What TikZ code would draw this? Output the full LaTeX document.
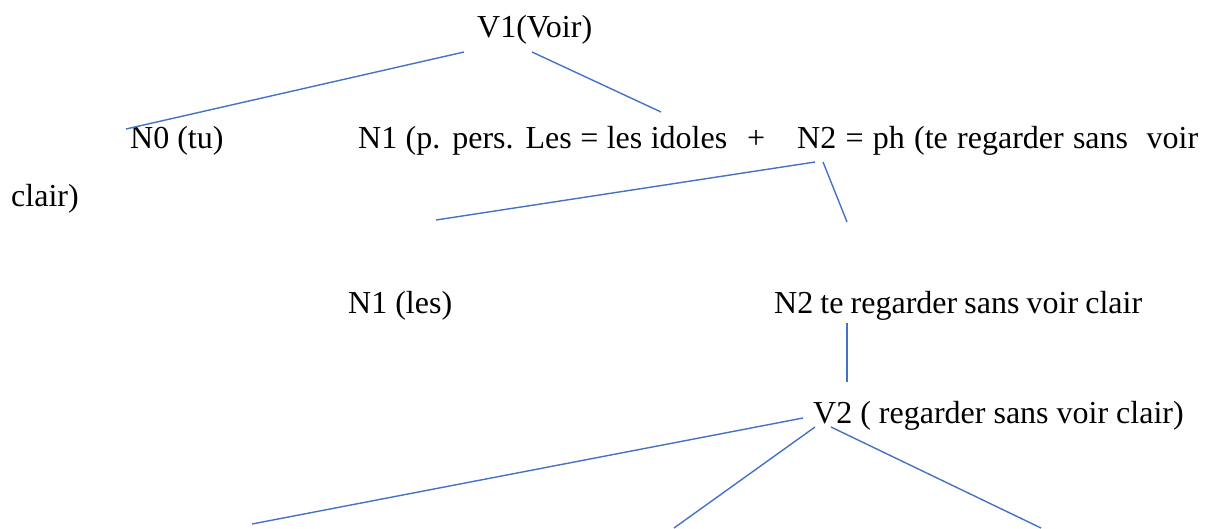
\documentclass[tikz,border=0pt]{standalone}
\usepackage{fontspec}
\setmainfont{Liberation Serif}
\definecolor{branchblue}{RGB}{68,114,196}
\tikzset{
    word/.style={anchor=base west, inner sep=0pt, font=\fontsize{32}{38}\selectfont},
    branch/.style={draw=branchblue, line width=1.4pt}
}
\newcommand{\spreadto}[2]{\makebox[#1][s]{#2}}

\begin{document}
\begin{tikzpicture}[x=1pt, y=-1pt]
    \useasboundingbox (0,0) rectangle (1214,528);

    % words of the tree
    \node[word] (v1) at (477,37) {V1(Voir)};
    \node[word] (n0) at (130,148) {N0 (tu)};
    \node[word] (n1) at (358,148) {\spreadto{369pt}{N1 (p. pers. Les = les idoles}};
    \node[word] (plus) at (747,148) {+};
    \node[word] (n2) at (797,148) {\spreadto{401pt}{N2 = ph (te regarder sans\ \ voir}};
    \node[word] (n2end) at (11,206) {clair)};
    \node[word] (n1les) at (348,313) {N1 (les)};
    \node[word] (n2ph) at (774,313) {\spreadto{368pt}{N2 te regarder sans voir clair}};
    \node[word] (v2) at (813,423) {V2 ( regarder sans voir clair)};

    % free ends of the branches
    \coordinate (v1l) at (464,52);
    \coordinate (v1r) at (532,52);
    \coordinate (n0t) at (126,129);
    \coordinate (n1t) at (661,112);
    \coordinate (n2l) at (815,162);
    \coordinate (n2r) at (823,162);
    \coordinate (n1lest) at (436,220);
    \coordinate (n2pht) at (847,222);
    \coordinate (n2phb) at (847,323);
    \coordinate (v2t) at (847,382);
    \coordinate (v2l) at (803,418);
    \coordinate (v2m) at (815,427);
    \coordinate (v2r) at (831,427);
    \coordinate (lefta) at (252,524);
    \coordinate (midb) at (674,528);
    \coordinate (rightc) at (1041,528);

    \draw[branch] (v1l) -- (n0t);
    \draw[branch] (v1r) -- (n1t);
    \draw[branch] (n2l) -- (n1lest);
    \draw[branch] (n2r) -- (n2pht);
    \draw[branch] (n2phb) -- (v2t);
    \draw[branch] (v2l) -- (lefta);
    \draw[branch] (v2m) -- (midb);
    \draw[branch] (v2r) -- (rightc);
\end{tikzpicture}
\end{document}
